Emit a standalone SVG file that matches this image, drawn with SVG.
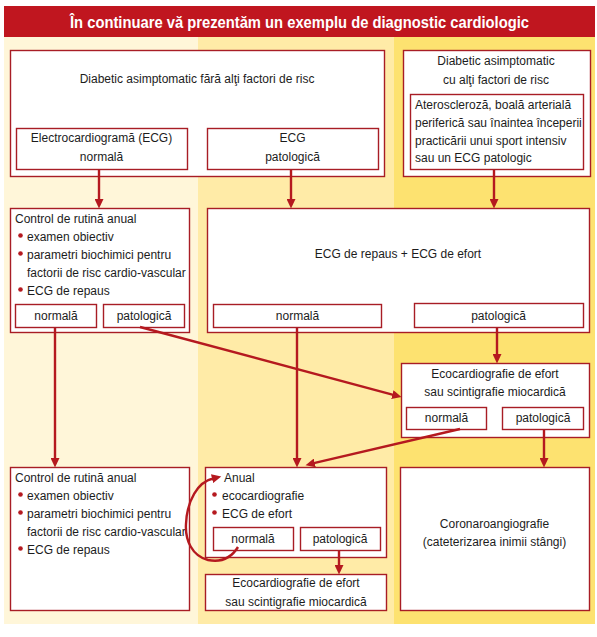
<svg xmlns="http://www.w3.org/2000/svg" width="597" height="637" viewBox="0 0 597 637">
<defs>
<style>
.box{fill:#fff;stroke:#A81D25;stroke-width:1.4}
.t{font-family:"Liberation Sans",Arial,sans-serif;font-size:12px;fill:#1c1c1c}
.c{text-anchor:middle}
.dot{fill:#B5191F}
.con{fill:none;stroke:#B5191F;stroke-width:2.4}
</style>
<marker id="ah" markerUnits="userSpaceOnUse" markerWidth="10" markerHeight="9" refX="1" refY="4.5" orient="auto">
<path d="M0,0 L9.5,4.5 L0,9 z" fill="#B5191F"/>
</marker>
</defs>
<rect width="597" height="637" fill="#fff"/>
<rect x="4" y="37" width="194" height="587" fill="#FFF6D9"/>
<rect x="198" y="37" width="196" height="587" fill="#FFEBA7"/>
<rect x="394" y="37" width="201" height="587" fill="#FDE270"/>
<g id="title">
<rect x="4" y="6" width="591" height="31" fill="#C0161F"/>
<text x="299.5" y="28" font-family="Liberation Sans, Arial, sans-serif" font-size="16" font-weight="bold" fill="#fff" text-anchor="middle" textLength="459" lengthAdjust="spacingAndGlyphs">În continuare vă prezentăm un exemplu de diagnostic cardiologic</text>
</g>

<g id="n-diab-fara">
<rect class="box" x="10.5" y="50.5" width="374" height="126"/>
<text class="t c" x="197" y="83">Diabetic asimptomatic fără alţi factori de risc</text>
</g>
<g id="n-ecg-normala">
<rect class="box" x="16.5" y="128.5" width="171" height="41"/>
<text class="t c" x="101.5" y="142">Electrocardiogramă (ECG)</text>
<text class="t c" x="101.5" y="161">normală</text>
</g>
<g id="n-ecg-patologica">
<rect class="box" x="207.5" y="128.5" width="171" height="41"/>
<text class="t c" x="292.5" y="142">ECG</text>
<text class="t c" x="292.5" y="161">patologică</text>
</g>
<g id="n-diab-cu">
<rect class="box" x="403.5" y="50.5" width="187" height="126"/>
<text class="t c" x="496" y="65">Diabetic asimptomatic</text>
<text class="t c" x="496" y="84">cu alţi factori de risc</text>
</g>
<g id="n-ateroscleroza">
<rect class="box" x="410.5" y="94.5" width="173" height="75"/>
<text class="t" x="415" y="109">Ateroscleroză, boală arterială</text>
<text class="t" x="415" y="127">periferică sau înaintea începerii</text>
<text class="t" x="415" y="144.5">practicării unui sport intensiv</text>
<text class="t" x="415" y="162">sau un ECG patologic</text>
</g>

<g id="n-control1">
<rect class="box" x="10.5" y="208.5" width="179" height="124"/>
<text class="t" x="15" y="223">Control de rutină anual</text>
<circle class="dot" cx="20.5" cy="235.5" r="2.3"/>
<text class="t" x="27" y="241">examen obiectiv</text>
<circle class="dot" cx="20.5" cy="253.5" r="2.3"/>
<text class="t" x="27" y="259">parametri biochimici pentru</text>
<text class="t" x="27" y="277">factorii de risc cardio-vascular</text>
<circle class="dot" cx="20.5" cy="289.5" r="2.3"/>
<text class="t" x="27" y="295">ECG de repaus</text>
</g>
<g id="n-control1-normala">
<rect class="box" x="15.5" y="304.5" width="81" height="23"/>
<text class="t c" x="56" y="320">normală</text>
</g>
<g id="n-control1-patologica">
<rect class="box" x="103.5" y="304.5" width="81" height="23"/>
<text class="t c" x="144" y="320">patologică</text>
</g>

<g id="n-ecg-repaus-efort">
<rect class="box" x="207.5" y="208.5" width="382" height="124"/>
<text class="t c" x="398" y="258">ECG de repaus + ECG de efort</text>
</g>
<g id="n-ecg-repaus-normala">
<rect class="box" x="213.5" y="304.5" width="168" height="23"/>
<text class="t c" x="297.5" y="320">normală</text>
</g>
<g id="n-ecg-repaus-patologica">
<rect class="box" x="414.5" y="303.5" width="169" height="24"/>
<text class="t c" x="498.5" y="320">patologică</text>
</g>

<g id="n-eco1">
<rect class="box" x="401.5" y="363.5" width="188" height="74"/>
<text class="t c" x="495" y="378">Ecocardiografie de efort</text>
<text class="t c" x="495" y="396">sau scintigrafie miocardică</text>
</g>
<g id="n-eco1-normala">
<rect class="box" x="406.5" y="407.5" width="80" height="22"/>
<text class="t c" x="446.5" y="422">normală</text>
</g>
<g id="n-eco1-patologica">
<rect class="box" x="502.5" y="407.5" width="81" height="22"/>
<text class="t c" x="543" y="422">patologică</text>
</g>

<g id="n-control2">
<rect class="box" x="10.5" y="467.5" width="179" height="143"/>
<text class="t" x="15" y="482">Control de rutină anual</text>
<circle class="dot" cx="20.5" cy="494.5" r="2.3"/>
<text class="t" x="27" y="500">examen obiectiv</text>
<circle class="dot" cx="20.5" cy="512.5" r="2.3"/>
<text class="t" x="27" y="518">parametri biochimici pentru</text>
<text class="t" x="27" y="536">factorii de risc cardio-vascular</text>
<circle class="dot" cx="20.5" cy="548.5" r="2.3"/>
<text class="t" x="27" y="554">ECG de repaus</text>
</g>

<g id="n-anual">
<rect class="box" x="205.5" y="467.5" width="181" height="90"/>
<text class="t" x="224" y="482">Anual</text>
<circle class="dot" cx="214.5" cy="494.5" r="2.3"/>
<text class="t" x="222" y="500">ecocardiografie</text>
<circle class="dot" cx="214.5" cy="512.5" r="2.3"/>
<text class="t" x="222" y="518">ECG de efort</text>
</g>
<g id="n-anual-normala">
<rect class="box" x="213.5" y="527.5" width="80" height="23"/>
<text class="t c" x="253" y="543">normală</text>
</g>
<g id="n-anual-patologica">
<rect class="box" x="300.5" y="527.5" width="80" height="23"/>
<text class="t c" x="340" y="543">patologică</text>
</g>
<g id="n-eco2">
<rect class="box" x="205.5" y="574.5" width="181" height="36"/>
<text class="t c" x="296" y="587">Ecocardiografie de efort</text>
<text class="t c" x="296" y="606">sau scintigrafie miocardică</text>
</g>

<g id="n-coronaro">
<rect class="box" x="400.5" y="467.5" width="189" height="143"/>
<text class="t c" x="494.5" y="528">Coronaroangiografie</text>
<text class="t c" x="494.5" y="546">(cateterizarea inimii stângi)</text>
</g>

<g id="connectors">
<line class="con" x1="99" y1="170" x2="99" y2="200" marker-end="url(#ah)"/>
<line class="con" x1="291" y1="170" x2="291" y2="200" marker-end="url(#ah)"/>
<line class="con" x1="494" y1="170" x2="494" y2="200" marker-end="url(#ah)"/>
<line class="con" x1="497" y1="328" x2="497" y2="355" marker-end="url(#ah)"/>
<line class="con" x1="140" y1="327" x2="393.3" y2="394.9" marker-end="url(#ah)"/>
<line class="con" x1="55" y1="328" x2="55" y2="459" marker-end="url(#ah)"/>
<line class="con" x1="297" y1="328" x2="297" y2="459" marker-end="url(#ah)"/>
<line class="con" x1="460" y1="429" x2="313.8" y2="463.2" marker-end="url(#ah)"/>
<line class="con" x1="544" y1="430" x2="544" y2="459" marker-end="url(#ah)"/>
<line class="con" x1="339" y1="551" x2="339" y2="566" marker-end="url(#ah)"/>
<path class="con" stroke-width="2" d="M238,547 C230,560 218,562 208,560 C192,556 185,540 186,524 C187,500 198,482 213,478.5" marker-end="url(#ah)"/>
</g>
</svg>
